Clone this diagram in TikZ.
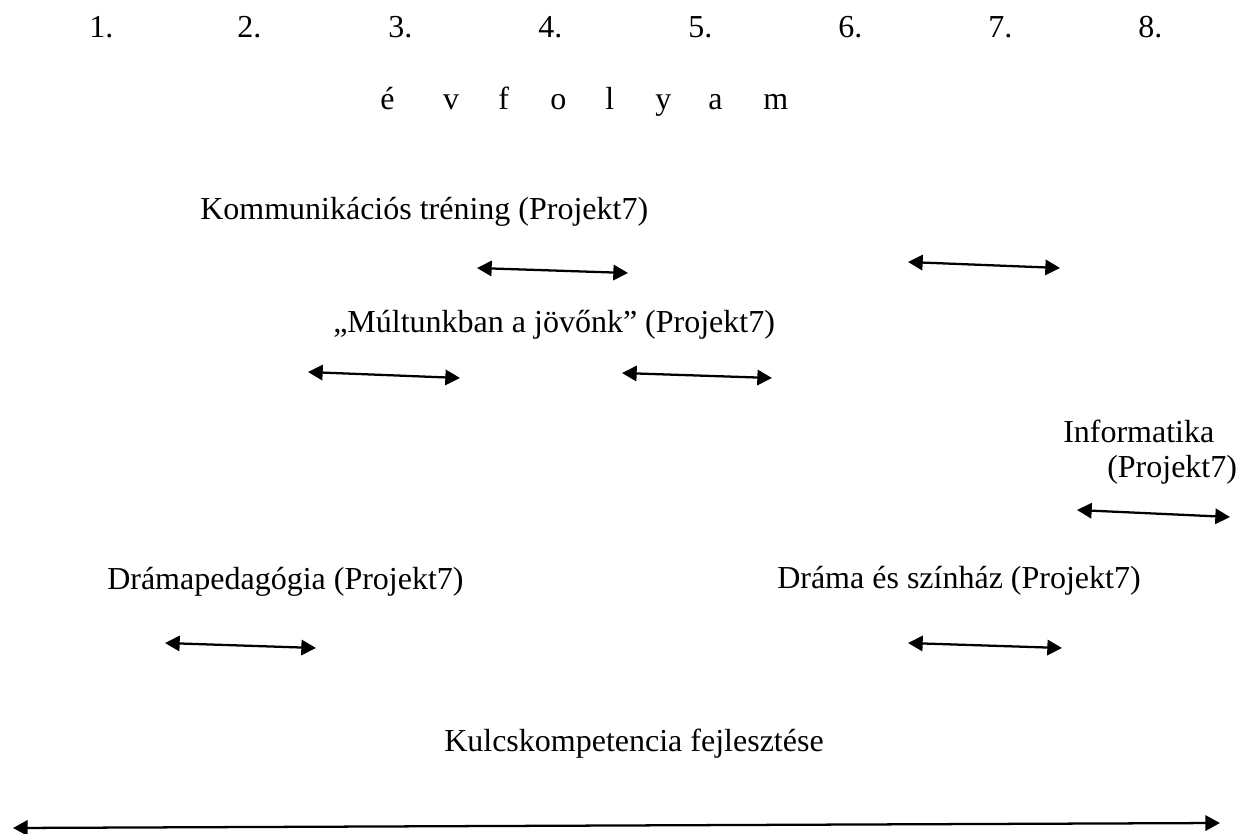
\documentclass[tikz,border=0pt]{standalone}
\usepackage{fontspec}
\setmainfont{Liberation Serif}
\usetikzlibrary{arrows.meta}
\begin{document}
\begin{tikzpicture}[x=0.75pt,y=-0.75pt,
  lbl/.style={anchor=base west, inner sep=0pt, font=\fontsize{24}{28}\selectfont},
  span/.style={{Triangle[length=11pt,width=11.5pt]}-{Triangle[length=11pt,width=11.5pt]}, line width=1.7pt}]
\useasboundingbox (0,0) rectangle (1239,834);
% grade numbers
\node[lbl] (g1) at (89,38) {1.};
\node[lbl] (g2) at (237,38) {2.};
\node[lbl] (g3) at (388,38) {3.};
\node[lbl] (g4) at (538,38) {4.};
\node[lbl] (g5) at (688,38) {5.};
\node[lbl] (g6) at (838,38) {6.};
\node[lbl] (g7) at (988,38) {7.};
\node[lbl] (g8) at (1138,38) {8.};
% évfolyam
\node[lbl] (evf) at (380,110) {\makebox[47.25pt][l]{é}\makebox[41.25pt][l]{v}\makebox[39pt][l]{f}\makebox[41.25pt][l]{o}\makebox[37.5pt][l]{l}\makebox[39.75pt][l]{y}\makebox[41.25pt][l]{a}m};
% labels
\node[lbl] (komm) at (200,220) {Kommunikációs tréning (Projekt7)};
\node[lbl] (mult) at (333,333) {„Múltunkban a jövőnk” (Projekt7)};
\node[lbl] (info) at (1063,442) {Informatika};
\node[lbl] (infop) at (1107,477) {(Projekt7)};
\node[lbl] (drped) at (107,589) {Drámapedagógia (Projekt7)};
\node[lbl] (drsz) at (777,588) {Dráma és színház (Projekt7)};
\node[lbl] (kulcs) at (444,751) {Kulcskompetencia fejlesztése};
% arrow end points
\coordinate (a1l) at (477,268); \coordinate (a1r) at (628,273);
\coordinate (a2l) at (908,262); \coordinate (a2r) at (1060,268);
\coordinate (a3l) at (308,372); \coordinate (a3r) at (460,378);
\coordinate (a4l) at (622,373); \coordinate (a4r) at (772,378);
\coordinate (a5l) at (1077,510); \coordinate (a5r) at (1230,517);
\coordinate (a6l) at (165,643); \coordinate (a6r) at (316,648);
\coordinate (a7l) at (908,643); \coordinate (a7r) at (1062,648);
\coordinate (a8l) at (13,828); \coordinate (a8r) at (1220,823);
\draw[span] (a1l) -- (a1r);
\draw[span] (a2l) -- (a2r);
\draw[span] (a3l) -- (a3r);
\draw[span] (a4l) -- (a4r);
\draw[span] (a5l) -- (a5r);
\draw[span] (a6l) -- (a6r);
\draw[span] (a7l) -- (a7r);
\draw[span] (a8l) -- (a8r);
\end{tikzpicture}
\end{document}
